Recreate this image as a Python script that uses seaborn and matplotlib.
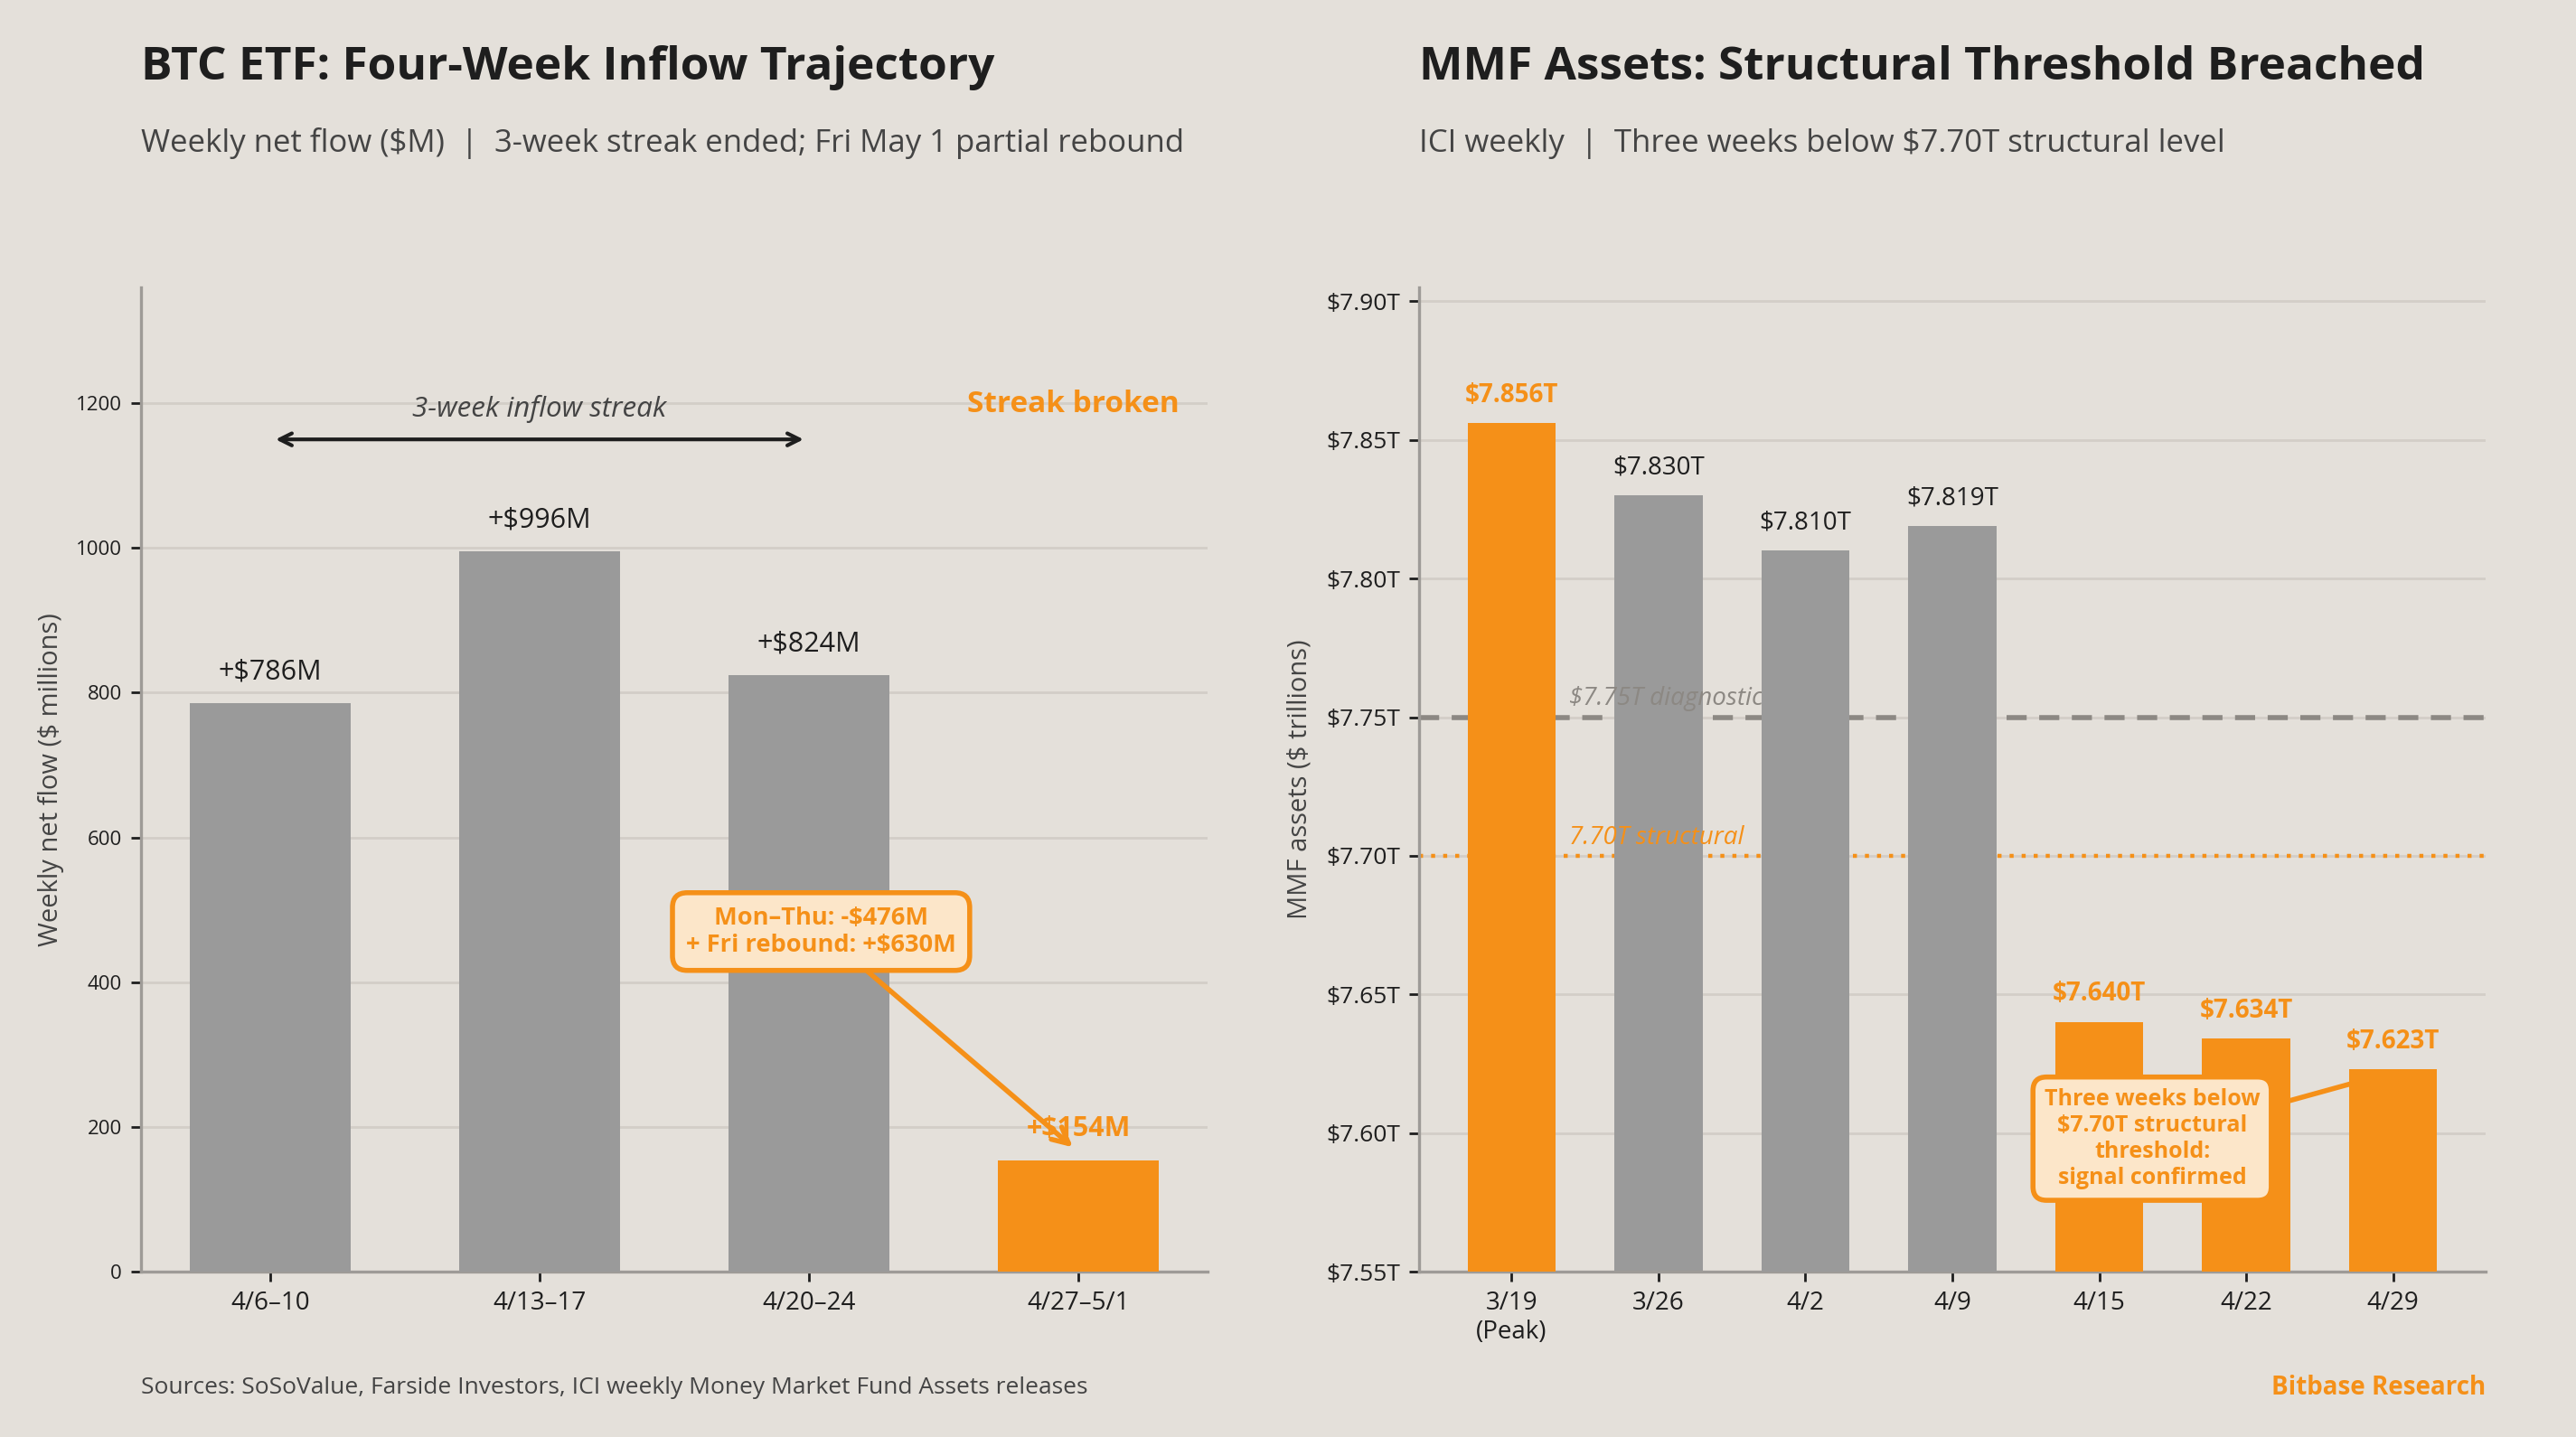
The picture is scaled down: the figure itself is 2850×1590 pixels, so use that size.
import matplotlib
matplotlib.use("Agg")
import matplotlib.pyplot as plt
import numpy as np
import pandas as pd
import seaborn as sns

# ---------------- data ----------------
etf_weeks = ["4/6–10", "4/13–17", "4/20–24", "4/27–5/1"]
etf_flows = [786, 996, 824, 154]
etf_labels = ["+\\$786M", "+\\$996M", "+\\$824M", "+\\$154M"]
etf_highlight = [False, False, False, True]
etf_yticks = [0, 200, 400, 600, 800, 1000, 1200]

mmf_weeks = ["3/19\n(Peak)", "3/26", "4/2", "4/9", "4/15", "4/22", "4/29"]
mmf_assets = [7.856, 7.830, 7.810, 7.819, 7.640, 7.634, 7.623]
mmf_labels = ["\\$7.856T", "\\$7.830T", "\\$7.810T", "\\$7.819T",
              "\\$7.640T", "\\$7.634T", "\\$7.623T"]
mmf_highlight = [True, False, False, False, True, True, True]
mmf_yticks = [7.55, 7.60, 7.65, 7.70, 7.75, 7.80, 7.85, 7.90]
diag_level = 7.75
struct_level = 7.70

# ---------------- style ----------------
BG = "#E4E0DA"
ORANGE = "#F59018"
GREY = "#9A9A9A"
DARK = "#1E1E1E"
MID = "#444444"
GRID = "#D3CEC7"
SPINE = "#9E9B97"
FONT = "Open Sans"

sns.set_theme(style="white")
plt.rcParams["font.family"] = [FONT, "DejaVu Sans"]
plt.rcParams["axes.facecolor"] = BG
plt.rcParams["figure.facecolor"] = BG

fig = plt.figure(figsize=(14.25, 7.95), dpi=200)
ax1 = fig.add_axes([0.0547, 0.115, 0.4141, 0.685])
ax2 = fig.add_axes([0.5509, 0.115, 0.4140, 0.685])

def style_axes(ax):
    ax.set_facecolor(BG)
    for s in ["top", "right"]:
        ax.spines[s].set_visible(False)
    for s in ["left", "bottom"]:
        ax.spines[s].set_color(SPINE)
        ax.spines[s].set_linewidth(1.2)
    ax.yaxis.grid(True, color=GRID, lw=1.0, zorder=0)
    ax.xaxis.grid(False)
    ax.set_axisbelow(True)
    ax.tick_params(axis="both", which="major", length=4, width=1, color=DARK,
                   labelcolor=DARK, bottom=True, left=True)

# ---------------- left chart ----------------
df1 = pd.DataFrame({"week": etf_weeks, "flow": etf_flows})
pal1 = {w: (ORANGE if h else GREY) for w, h in zip(etf_weeks, etf_highlight)}
sns.barplot(data=df1, x="week", y="flow", hue="week", palette=pal1,
            width=0.6, saturation=1, errorbar=None, legend=False, ax=ax1,
            linewidth=0, edgecolor="none")
style_axes(ax1)
for p in ax1.patches:
    p.set_zorder(3)
    p.set_linewidth(0)
ax1.set_xlim(-0.48, 3.48)
ax1.set_ylim(0, 1360)
ax1.set_yticks(etf_yticks)
ax1.set_yticklabels([str(v) for v in etf_yticks])
ax1.tick_params(axis="y", labelsize=8)
ax1.tick_params(axis="x", labelsize=10)
ax1.set_xlabel("")
ax1.set_ylabel("Weekly net flow (\\$ millions)", fontsize=10.5, color=MID)
ax1.yaxis.set_label_coords(-0.072, 0.5)

for i, (v, lab, h) in enumerate(zip(etf_flows, etf_labels, etf_highlight)):
    ax1.annotate(lab, xy=(i, v), xytext=(0, 7), textcoords="offset points",
                 ha="center", va="bottom", fontsize=11,
                 color=ORANGE if h else DARK,
                 fontweight="bold" if h else "normal", zorder=6)

ax1.annotate("", xy=(0.02, 1150), xytext=(1.98, 1150),
             arrowprops=dict(arrowstyle="<->", color=DARK, lw=1.5,
                             shrinkA=0, shrinkB=0, mutation_scale=12), zorder=5)
ax1.text(1.0, 1192, "3-week inflow streak", ha="center", va="center",
         fontsize=11.3, style="italic", color=MID, zorder=5)
ax1.text(3.375, 1198, "Streak broken", ha="right", va="center",
         fontsize=12, fontweight="bold", color=ORANGE, zorder=5)

ax1.annotate("Mon–Thu: -\\$476M\n+ Fri rebound: +\\$630M",
             xy=(2.98, 172), xytext=(2.045, 470), textcoords="data",
             ha="center", va="center", fontsize=9.8, fontweight="bold",
             color=ORANGE, linespacing=1.2,
             bbox=dict(boxstyle="round,pad=0.55,rounding_size=0.6",
                       fc="#FCE6C9", ec=ORANGE, lw=2),
             arrowprops=dict(arrowstyle="->", color=ORANGE, lw=2,
                             shrinkA=0, shrinkB=0, mutation_scale=16),
             zorder=10)

# ---------------- right chart ----------------
df2 = pd.DataFrame({"week": mmf_weeks, "assets": mmf_assets})
pal2 = {w: (ORANGE if h else GREY) for w, h in zip(mmf_weeks, mmf_highlight)}
sns.barplot(data=df2, x="week", y="assets", hue="week", palette=pal2,
            width=0.6, saturation=1, errorbar=None, legend=False, ax=ax2,
            linewidth=0, edgecolor="none")
style_axes(ax2)
for p in ax2.patches:
    p.set_linewidth(0)
    c = p.get_x() + p.get_width() / 2
    p.set_zorder(2 if abs(c - 1) < 0.1 else 3)
ax2.set_xlim(-0.63, 6.63)
ax2.set_ylim(7.55, 7.905)
ax2.set_yticks(mmf_yticks)
ax2.set_yticklabels(["\\$%.2fT" % v for v in mmf_yticks])
ax2.tick_params(axis="y", labelsize=9.5)
ax2.tick_params(axis="x", labelsize=10)
ax2.set_xlabel("")
ax2.set_ylabel("MMF assets (\\$ trillions)", fontsize=10.5, color=MID)
ax2.yaxis.set_label_coords(-0.10, 0.5)

ax2.axhline(diag_level, color="#8C8883", lw=2, ls=(0, (4, 2.5)), zorder=1.5)
ax2.axhline(struct_level, color=ORANGE, lw=1.6, ls=(0, (1, 2)), zorder=1.5)
ax2.text(0.39, diag_level + 0.002, "\\$7.75T diagnostic", ha="left", va="bottom",
         fontsize=10, style="italic", color="#8C8883", zorder=2.5)
ax2.text(0.39, struct_level + 0.002, "7.70T structural", ha="left", va="bottom",
         fontsize=10, style="italic", color=ORANGE, zorder=2.5)

for i, (v, lab, h) in enumerate(zip(mmf_assets, mmf_labels, mmf_highlight)):
    ax2.annotate(lab, xy=(i, v), xytext=(0, 6), textcoords="offset points",
                 ha="center", va="bottom", fontsize=10,
                 color=ORANGE if h else DARK,
                 fontweight="bold" if h else "normal", zorder=6)

ax2.annotate("Three weeks below\n\\$7.70T structural\nthreshold:\nsignal confirmed",
             xy=(6.0, 7.622), xytext=(4.36, 7.598), textcoords="data",
             ha="center", va="center", fontsize=9, fontweight="bold",
             color=ORANGE, linespacing=1.2,
             bbox=dict(boxstyle="round,pad=0.5,rounding_size=0.6",
                       fc="#FCE6C9", ec=ORANGE, lw=2),
             arrowprops=dict(arrowstyle="-", color=ORANGE, lw=2,
                             shrinkA=0, shrinkB=0),
             zorder=10)

# ---------------- titles & footer ----------------
fig.text(0.0547, 0.953, "BTC ETF: Four-Week Inflow Trajectory", ha="left",
         va="center", fontsize=18.5, fontweight="bold", color=DARK)
fig.text(0.0547, 0.900,
         "Weekly net flow (\\$M)  |  3-week streak ended; Fri May 1 partial rebound",
         ha="left", va="center", fontsize=12.5, color=MID)
fig.text(0.5509, 0.953, "MMF Assets: Structural Threshold Breached", ha="left",
         va="center", fontsize=18.5, fontweight="bold", color=DARK)
fig.text(0.5509, 0.900,
         "ICI weekly  |  Three weeks below \\$7.70T structural level",
         ha="left", va="center", fontsize=12.5, color=MID)
fig.text(0.0547, 0.034,
         "Sources: SoSoValue, Farside Investors, ICI weekly Money Market Fund Assets releases",
         ha="left", va="center", fontsize=9.5, color=MID)
fig.text(0.9649, 0.034, "Bitbase Research", ha="right", va="center",
         fontsize=10, fontweight="bold", color=ORANGE)

fig.savefig("out.png", dpi=200, facecolor=BG)
